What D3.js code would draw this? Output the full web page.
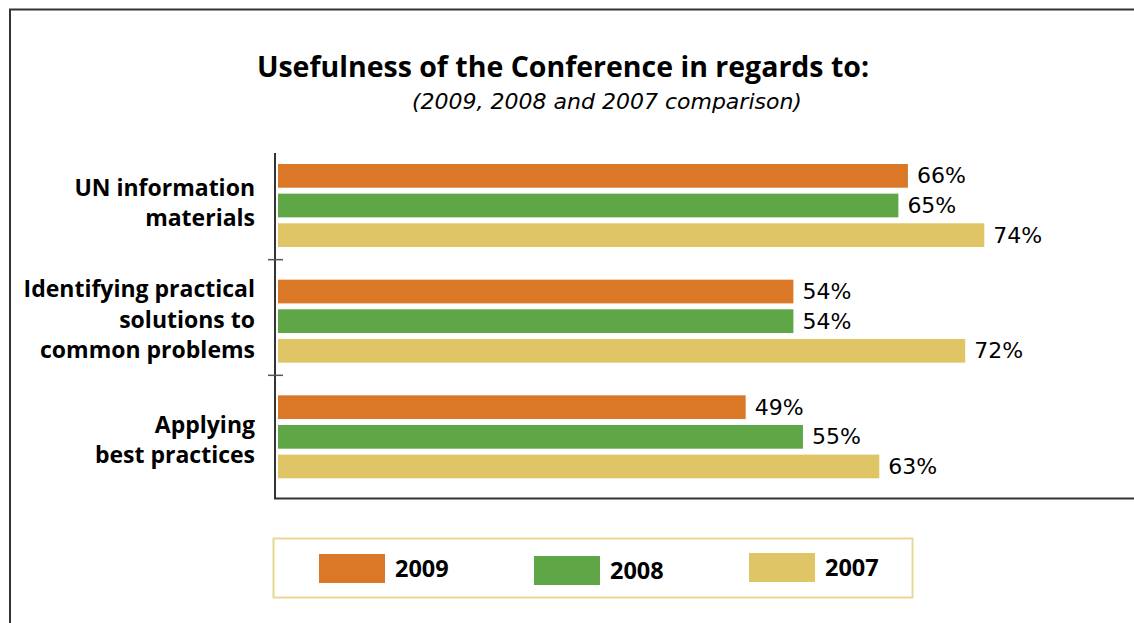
<!DOCTYPE html>
<html>
<head>
<meta charset="utf-8">
<script src="https://cdn.jsdelivr.net/npm/d3@7"></script>
<style>
  body { margin: 0; background: #fff; }
  svg { display: block; font-family: "Open Sans", "Noto Sans", sans-serif; }
</style>
</head>
<body>
<svg width="1134" height="623"></svg>
<script>
// data
const categories = ["UN information materials", "Identifying practical solutions to common problems", "Applying best practices"];
const categoryLines = [["UN information", "materials"], ["Identifying practical", "solutions to", "common problems"], ["Applying ", "best practices"]];
const years = ["2009", "2008", "2007"];
const values2009 = [66, 54, 49];
const values2008 = [65, 54, 55];
const values2007 = [74, 72, 63];
const colors = ["#DA7828", "#5EA646", "#DFC566"];

const svg = d3.select("svg");

// outer frame (left + top edge only visible)
svg.append("path")
    .attr("d", "M10,623 L10,9.5 L1134,9.5")
    .attr("fill", "none")
    .attr("stroke", "#333")
    .attr("stroke-width", 2);

svg.append("text")
    .attr("x", 563).attr("y", 77)
    .attr("text-anchor", "middle")
    .attr("font-size", 28.5).attr("font-weight", "bold")
    .text("Usefulness of the Conference in regards to:");

svg.append("text")
    .attr("x", 607).attr("y", 109)
    .attr("text-anchor", "middle")
    .attr("font-family", "DejaVu Sans")
    .attr("font-size", 22).attr("font-style", "italic")
    .text("(2009, 2008 and 2007 comparison)");

const x = d3.scaleLinear().domain([0, 90]).range([278, 1137]);
const y = d3.scaleBand().domain(categories).range([147, 494]);
const ySub = d3.scaleBand().domain(years).range([17, 100]).paddingInner(0.2);
const labelShift = [-2, -1, 4];

const rows = categories.map((c, i) => ({
    cat: c,
    lines: categoryLines[i],
    shift: labelShift[i],
    vals: [values2009[i], values2008[i], values2007[i]]
}));

// axes lines
svg.append("line")
    .attr("x1", 275).attr("x2", 275).attr("y1", 153).attr("y2", 499)
    .attr("stroke", "#333").attr("stroke-width", 2);
svg.append("line")
    .attr("x1", 274).attr("x2", 1134).attr("y1", 498.5).attr("y2", 498.5)
    .attr("stroke", "#333").attr("stroke-width", 2);

// separators between groups
categories.slice(1).forEach(c => {
    svg.append("line")
        .attr("x1", 268).attr("x2", 283)
        .attr("y1", y(c) - 3).attr("y2", y(c) - 3)
        .attr("stroke", "#555").attr("stroke-width", 1.5);
});

const groups = svg.selectAll("g.group").data(rows)
    .enter().append("g")
    .attr("class", "group")
    .attr("transform", d => `translate(0,${y(d.cat)})`);

groups.selectAll("rect")
    .data(d => d.vals.map((v, j) => ({ year: years[j], v: v, color: colors[j] })))
    .enter().append("rect")
    .attr("x", x(0))
    .attr("y", d => ySub(d.year))
    .attr("width", d => x(d.v) - x(0))
    .attr("height", ySub.bandwidth())
    .attr("fill", d => d.color);

groups.selectAll("text.val")
    .data(d => d.vals.map((v, j) => ({ year: years[j], v: v })))
    .enter().append("text")
    .attr("class", "val")
    .attr("x", d => x(d.v) + 9)
    .attr("y", d => ySub(d.year) + ySub.bandwidth() / 2)
    .attr("dy", "0.34em")
    .attr("font-family", "DejaVu Sans")
    .attr("font-size", 22)
    .text(d => d.v + "%");

groups.each(function(d) {
    const n = d.lines.length;
    const cy = y.bandwidth() / 2 + d.shift;
    d3.select(this).selectAll("text.cat")
        .data(d.lines)
        .enter().append("text")
        .attr("class", "cat")
        .attr("x", 255)
        .attr("y", (t, k) => cy + (k - (n - 1) / 2) * 30.5)
        .attr("dy", "0.35em")
        .attr("text-anchor", "end")
        .attr("font-size", 23).attr("font-weight", "bold")
        .text(t => t);
});

// legend
const legend = svg.append("g");
legend.append("rect")
    .attr("x", 273.5).attr("y", 538.5).attr("width", 639).attr("height", 59)
    .attr("fill", "none").attr("stroke", "#E8D894").attr("stroke-width", 2);

const legendX = [319, 534, 749];
const legendY = [554, 556, 553];
years.forEach((yr, i) => {
    legend.append("rect")
        .attr("x", legendX[i]).attr("y", legendY[i])
        .attr("width", 66).attr("height", 29)
        .attr("fill", colors[i]);
    legend.append("text")
        .attr("x", legendX[i] + 76).attr("y", legendY[i] + 14.5)
        .attr("dy", "0.35em")
        .attr("font-size", 23.5).attr("font-weight", "bold")
        .text(yr);
});
</script>
</body>
</html>
